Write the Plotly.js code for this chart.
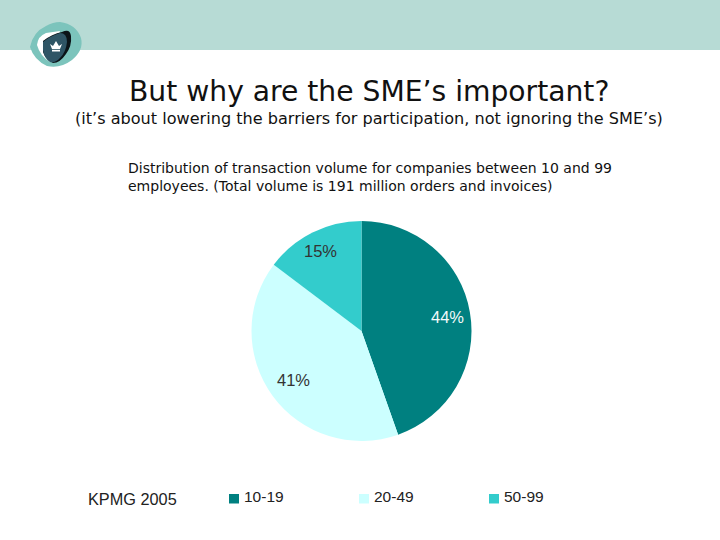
<!DOCTYPE html>
<html><head><meta charset="utf-8">
<script src="https://cdn.plot.ly/plotly-3.0.1.min.js"></script>
<style>html,body{margin:0;padding:0;background:#fff}</style></head>
<body><div id="c" style="width:720px;height:540px"></div>
<script>
const categories = ["10-19","20-49","50-99"];
const values = [44.6,40.7,14.7];
const labels = ["44%","41%","15%"];
const colors = ["#008080","#CCFFFF","#33CCCC"];
const title1 = "But why are the SME’s important?";
const title2 = "(it’s about lowering the barriers for participation, not ignoring the SME’s)";
const desc1 = "Distribution of transaction volume for companies between 10 and 99";
const desc2 = "employees. (Total volume is 191 million orders and invoices)";
const V="Verdana, 'DejaVu Sans', sans-serif", A="'Liberation Sans', Arial, sans-serif";
function t(x,y,text,size,family,anchor,color){return {xref:'paper',yref:'paper',x:x/720,y:1-y/540,text:text,showarrow:false,xanchor:anchor||'left',yanchor:'middle',font:{size:size,family:family,color:color||'#111'}};}
// decorative logo outlines, given in page pixels
function P(cmds){return cmds.replace(/(-?[\d.]+),(-?[\d.]+)/g,(m,x,y)=>(x/720).toFixed(5)+','+(1-y/540).toFixed(5));}
function logo(d,c){return {type:'path',xref:'paper',yref:'paper',path:P(d),fillcolor:c,line:{width:0}};}
const legX=[229,359,489];
const shapes=[
 {type:'rect',xref:'paper',yref:'paper',x0:0,x1:1,y0:1-50/540,y1:1,fillcolor:'#B7DBD5',line:{width:0},layer:'below'},
 logo("M 60,22 Q 76,24 81,38 Q 84,50 72,60 Q 60,69 47,66 Q 34,60 30,47 Q 33,32 46,26 Q 53,22 60,22 Z",'#7CC4BC'),
 logo("M 37,45 Q 38,36 46,33 L 60,31 L 50,62 Q 40,56 37,45 Z",'#FFFFFF'),
 logo("M 43,41 Q 52,34 62,32 Q 70,28 71,36 Q 72,46 66,54 Q 60,63 53,63 Q 46,60 43,52 Z",'#0B1418'),
 logo("M 43,42 Q 50,36 60,33 Q 67,33 67,42 Q 66,52 60,58 Q 56,63 50,62 Q 44,58 43,50 Z",'#2F5565'),
 logo("M 50,44 L 53,46 L 56,41 L 59,46 L 62,44 L 60,49 L 52,49 Z",'#FFFFFF'),
 logo("M 52,49.8 L 60,49.8 L 60,51.5 L 52,51.5 Z",'#FFFFFF')
];
legX.forEach((x,i)=>shapes.push({type:'rect',xref:'paper',yref:'paper',x0:x/720,x1:(x+10)/720,y0:1-503.5/540,y1:1-494/540,fillcolor:colors[i],line:{width:0}}));
const annotations=[
 t(369,91,title1,28.2,V,'center'),
 t(369,118,title2,16.1,V,'center'),
 t(125.5,168,desc1,14,V),
 t(125.5,186,desc2,14,V),
 t(85.5,499,"KPMG 2005",16.3,A,'left','#222'),
 t(447,317,labels[0],16.5,A,'center','#F2FAFA'),
 t(293,380,labels[1],16.5,A,'center','#333'),
 t(320,251,labels[2],16.5,A,'center','#333')
];
legX.forEach((x,i)=>annotations.push(t(x+12.5,496.5,categories[i],15.5,A,'left','#222')));
Plotly.newPlot('c',[{
 type:'pie',values:values,labels:categories,textinfo:'none',
 sort:false,direction:'clockwise',rotation:0,
 marker:{colors:colors,line:{width:0}},
 domain:{x:[251/720,472/720],y:[1-441/540,1-221/540]},showlegend:false,hoverinfo:'none'
}],{width:720,height:540,margin:{l:0,r:0,t:0,b:0},paper_bgcolor:'#fff',showlegend:false,shapes:shapes,annotations:annotations},{displayModeBar:false});
</script></body></html>
